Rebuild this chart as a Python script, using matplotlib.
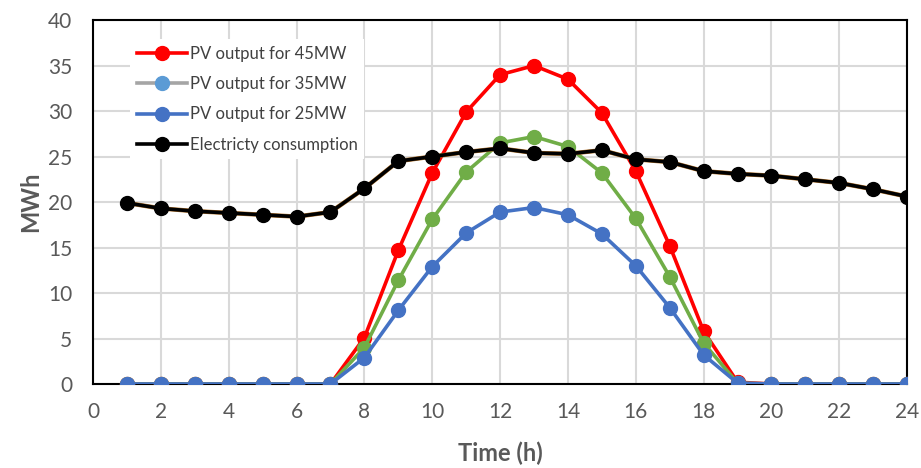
import numpy as np
import matplotlib.pyplot as plt

plt.rcParams['font.family'] = ['Lato', 'DejaVu Sans']

hours = list(range(1, 25))

pv_45 = [0, 0, 0, 0, 0, 0, 0, 5.1, 14.7, 23.2, 29.9, 34.0, 35.0, 33.5, 29.8, 23.4,
         15.2, 5.8, 0.2, 0, 0, 0, 0, 0]
pv_35 = [0, 0, 0, 0, 0, 0, 0, 4.0, 11.4, 18.1, 23.3, 26.5, 27.2, 26.1, 23.2, 18.2,
         11.8, 4.5, 0.1, 0, 0, 0, 0, 0]
pv_25 = [0, 0, 0, 0, 0, 0, 0, 2.9, 8.1, 12.9, 16.6, 18.9, 19.4, 18.6, 16.5, 13.0,
         8.4, 3.2, 0.1, 0, 0, 0, 0, 0]
consumption = [19.9, 19.3, 19.0, 18.8, 18.6, 18.4, 18.9, 21.5, 24.5, 25.0, 25.5, 25.9,
               25.4, 25.3, 25.7, 24.7, 24.4, 23.4, 23.1, 22.9, 22.5, 22.1, 21.4, 20.6]

fig = plt.figure(figsize=(9.21, 4.68), dpi=100)
ax = fig.add_axes([0.101, 0.1795, 0.884, 0.7775])

ms = 10
lw = 2.6
ax.plot(hours, pv_45, "-o", color="#FF0000", lw=lw, ms=ms, label="PV output for 45MW", zorder=3)
ax.plot(hours, pv_35, "-o", color="#70AD47", lw=lw, ms=ms, zorder=4)
# legend entry for 35MW uses the odd grey/light blue style of the original
ax.plot([], [], "-o", color="#A5A5A5", mfc="#5B9BD5", mec="#5B9BD5", lw=lw, ms=ms,
        label="PV output for 35MW")
ax.plot(hours, pv_25, "-o", color="#4472C4", lw=lw, ms=ms, label="PV output for 25MW", zorder=5)
ax.plot(hours, consumption, "-", color="#B5742A", lw=lw + 0.6, zorder=5.5)
ax.plot(hours, consumption, "-o", color="black", lw=lw, ms=ms, label="Electricty consumption", zorder=6)

ax.set_xlim(0, 24)
ax.set_ylim(0, 40)
ax.set_xticks(range(0, 25, 2))
ax.set_yticks(range(0, 41, 5))
ax.tick_params(length=0, labelsize=15, labelcolor="#595959")
ax.tick_params(axis="x", pad=13)
ax.tick_params(axis="y", pad=15)
ax.grid(color="#D9D9D9", lw=1.5)
ax.set_axisbelow(True)
for s in ax.spines.values():
    s.set_color("black")
    s.set_linewidth(1.5)

ax.set_xlabel("Time (h)", fontsize=17, fontweight="bold", color="#595959", labelpad=14)
ax.set_ylabel("MWh", fontsize=17, fontweight="bold", color="#595959", labelpad=4)

leg = ax.legend(loc="upper left", bbox_to_anchor=(0.035, 0.97), frameon=True, fontsize=12,
                handlelength=3.0, labelspacing=0.85, borderpad=0.4, handletextpad=0.2)
leg.get_frame().set_edgecolor("none")
leg.get_frame().set_facecolor("white")
leg.get_frame().set_alpha(1)
leg.get_frame().set_boxstyle("square", pad=0)
for t in leg.get_texts():
    t.set_color("#404040")

plt.savefig("out.png", dpi=100)
